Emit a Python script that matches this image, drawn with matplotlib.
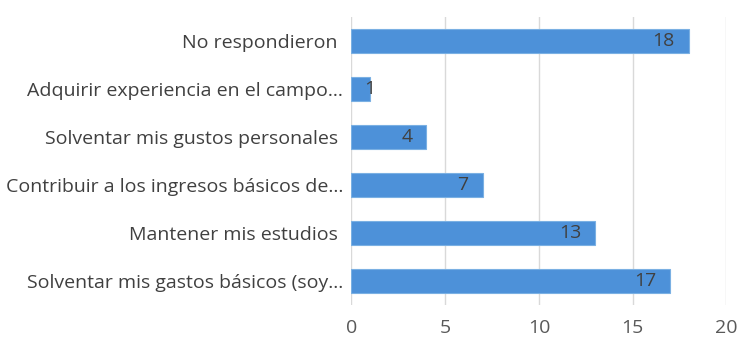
import matplotlib
matplotlib.use("Agg")
import matplotlib.pyplot as plt

categorias = ["Solventar mis gastos básicos (soy...",
              "Mantener mis estudios ",
              "Contribuir a los ingresos básicos de...",
              "Solventar mis gustos personales ",
              "Adquirir experiencia en el campo...",
              "No respondieron "]
valores = [17, 13, 7, 4, 1, 18]
ticks_x = [0, 5, 10, 15, 20]

plt.rcParams['font.family'] = ['Open Sans', 'DejaVu Sans']

fig = plt.figure(figsize=(7.38, 3.43), dpi=100)
ax = fig.add_axes([0.4762, 0.111, 0.508, 0.839])

pos = list(range(len(categorias)))
ax.barh(pos, valores, height=0.5, color='#4d91d9', edgecolor='#7ab0e3', linewidth=0.8, zorder=3)

ax.set_xlim(0, 20)
ax.set_ylim(-0.5, len(categorias) - 0.5)
ax.set_xticks(ticks_x)
ax.set_yticks(pos)
ax.set_yticklabels(categorias, fontsize=14, color='#404040')
ax.tick_params(axis='x', labelsize=14, labelcolor='#595959', length=0, pad=10)
ax.tick_params(axis='y', length=0, pad=6)
ax.grid(axis='x', color='#d9d9d9', linewidth=1, zorder=0)
for s in ax.spines.values():
    s.set_visible(False)

# etiquetas dentro del extremo de la barra (centradas si la barra es corta)
px_por_unidad = 0.508 * 738 / 20
for i, v in enumerate(valores):
    if v * px_por_unidad > 40:
        ax.annotate(str(v), (v, i), xytext=(-14, 0), textcoords='offset pixels',
                    ha='right', va='center', fontsize=14, color='#404040', zorder=4)
    else:
        ax.annotate(str(v), (v, i), xytext=(0, 0), textcoords='offset pixels',
                    ha='center', va='center', fontsize=14, color='#404040', zorder=4)

fig.savefig("out.png", dpi=100)
